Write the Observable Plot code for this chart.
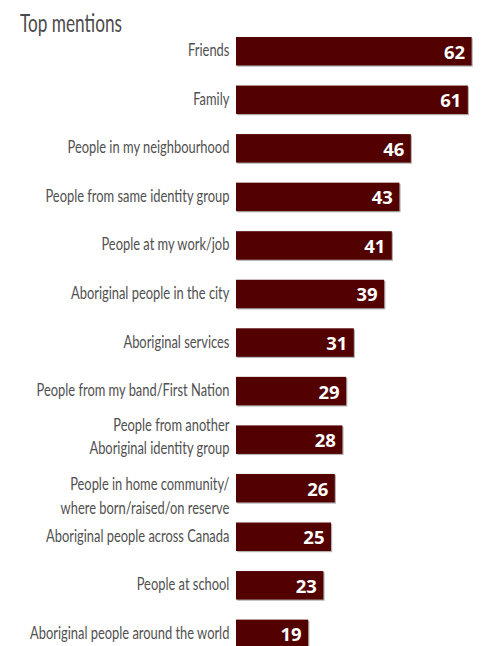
<!DOCTYPE html>
<html>
<head>
<meta charset="utf-8">
<script src="https://cdn.jsdelivr.net/npm/d3@7"></script>
<script src="https://cdn.jsdelivr.net/npm/@observablehq/plot@0.6"></script>
<style>
  html, body { margin: 0; padding: 0; background: #fff; overflow: hidden; }
  #title {
    height: 34px; position: relative;
  }
  #title span {
    position: absolute; left: 20px; top: 10px; white-space: nowrap;
    font-family: Lato, "Open Sans", sans-serif; font-weight: 400;
    font-size: 25px; line-height: 25px; color: #4a4a4a;
    transform-origin: 0 50%; display: inline-block;
  }
  #chart svg { display: block; }
</style>
</head>
<body>
<div id="title"><span>Top mentions</span></div>
<div id="chart"></div>
<script>
const categories = [
  "Friends",
  "Family",
  "People in my neighbourhood",
  "People from same identity group",
  "People at my work/job",
  "Aboriginal people in the city",
  "Aboriginal services",
  "People from my band/First Nation",
  "People from another\nAboriginal identity group",
  "People in home community/\nwhere born/raised/on reserve",
  "Aboriginal people across Canada",
  "People at school",
  "Aboriginal people around the world"
];
const values = [62, 61, 46, 43, 41, 39, 31, 29, 28, 26, 25, 23, 19];

const data = categories.map((c, i) => ({category: c, value: values[i]}));
const labelFont = `Lato, "Open Sans", sans-serif`;
const step = 48.55;
const n = categories.length;
const x0 = 236;

const labelStyle = {
  x: 0, y: "category", text: "category", textAnchor: "end", dx: -7,
  lineHeight: 1.42, fill: "#505050", fontFamily: labelFont, fontSize: 16.5
};
const isHome = d => d.category.startsWith("People in home");
const isAnother = d => d.category.startsWith("People from another");

const chart = Plot.plot({
  width: 481,
  height: 612,
  marginLeft: 0, marginRight: 0, marginTop: 0, marginBottom: 0,
  x: {domain: [0, 62], range: [x0, 471.6], axis: null},
  y: {domain: categories, range: [3, 3 + step * (n - 0.413)], paddingInner: 0.413, paddingOuter: 0, round: false, axis: null},
  marks: [
    Plot.barX(data, {x: "value", y: "category", fill: "#b3b3b3", dx: 1.2, dy: 1.2}),
    Plot.barX(data, {x: "value", y: "category", fill: "#520000"}),
    Plot.text(data, {
      x: "value", y: "category", text: d => String(d.value),
      textAnchor: "end", dx: -7, dy: 1, fill: "white",
      fontFamily: "'Open Sans', sans-serif", fontWeight: 700, fontSize: 18.5
    }),
    Plot.text(data.filter(d => !isHome(d) && !isAnother(d)), {...labelStyle, dy: -3}),
    Plot.text(data.filter(isAnother), {...labelStyle, dy: -5}),
    Plot.text(data.filter(isHome), {...labelStyle, dy: 6})
  ]
});
document.getElementById("chart").appendChild(chart);

// condense label text horizontally (reference uses a condensed face)
const flat = new Set(categories.map(c => c.replace("\n", "")));
const labelTexts = Array.from(chart.querySelectorAll("text")).filter(t => flat.has(t.textContent));
const ref = labelTexts.find(t => t.textContent === "People in my neighbourhood");
const s = ref ? 162 / ref.getComputedTextLength() : 0.8;
const groups = new Set(labelTexts.map(t => t.parentNode));
groups.forEach(g => {
  const prev = g.getAttribute("transform") || "";
  g.setAttribute("transform", `translate(${x0 - 7},0) scale(${s},1) translate(${-(x0 - 7)},0) ${prev}`);
});

// condense the title the same way
const t = document.querySelector("#title span");
const tw = t.getBoundingClientRect().width;
t.style.transform = `scaleX(${102 / tw})`;
</script>
</body>
</html>
